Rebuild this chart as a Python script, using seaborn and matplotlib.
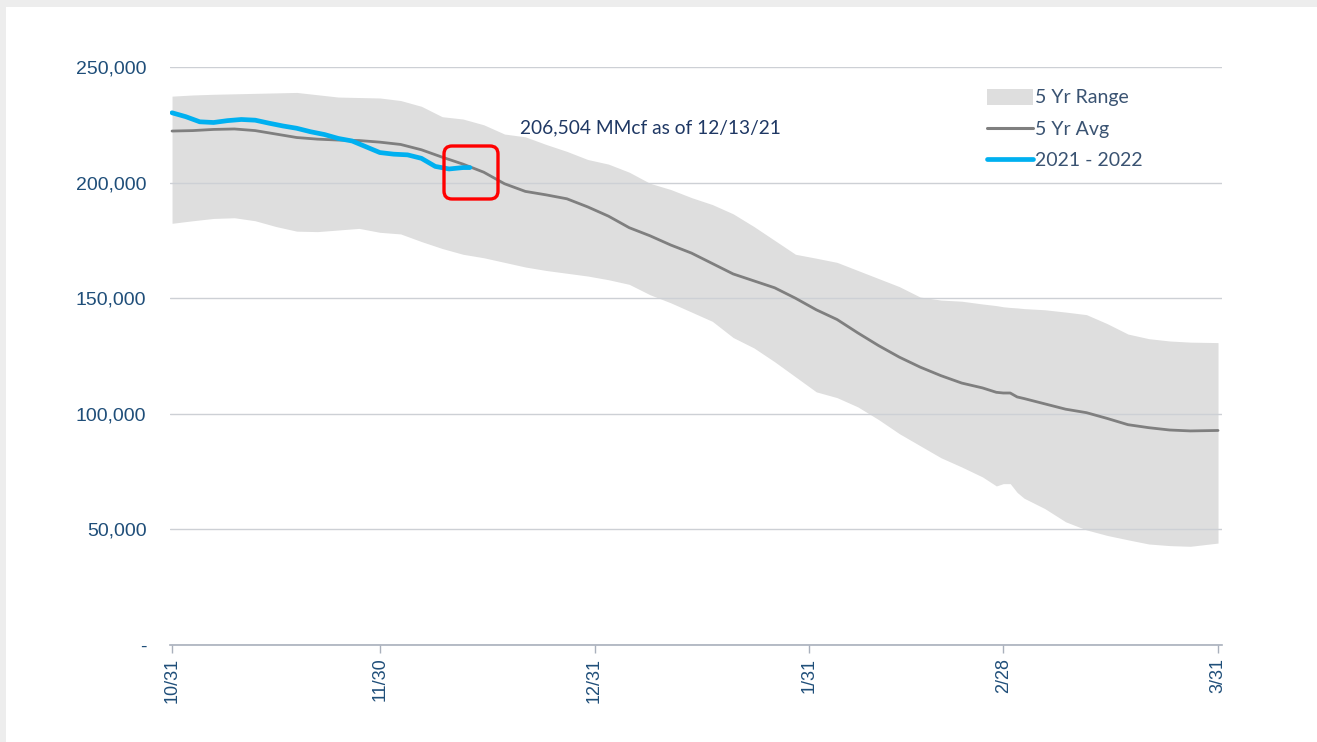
import pandas as pd
import matplotlib.pyplot as plt
import seaborn as sns
from matplotlib.lines import Line2D
from matplotlib.patches import Patch, FancyBboxPatch, Rectangle
from matplotlib.transforms import IdentityTransform
from matplotlib.ticker import FuncFormatter

# days after 10/31 for the 5 yr range and 5 yr average
range_days = [0, 3, 6, 9, 12, 15, 18, 21, 24, 27, 30, 33, 36, 39, 42, 45, 48, 51, 54, 57,
              60, 63, 66, 69, 72, 75, 78, 81, 84, 87, 90, 93, 96, 99, 102, 105, 108, 111,
              114, 117, 119, 120, 121, 122, 123, 126, 129, 132, 135, 138, 141, 144, 147, 151]

range_high = [237400, 237900, 238200, 238400, 238600, 238800, 239000, 238000, 237000, 236800,
              236600, 235500, 233000, 228500, 227500, 225000, 221000, 219800, 216500, 213500,
              210000, 208000, 204500, 199700, 197000, 193500, 190500, 186500, 181000, 175000,
              169000, 167300, 165500, 162000, 158500, 155000, 150500, 149200, 148700, 147500,
              146800, 146300, 146000, 145800, 145500, 145000, 144000, 142900, 139000, 134500,
              132500, 131500, 131000, 130800]

range_low = [182400, 183500, 184500, 184800, 183500, 181000, 179000, 178800, 179500, 180200,
             178500, 177800, 174500, 171500, 169000, 167500, 165500, 163500, 162000, 160800,
             159600, 158000, 156000, 151500, 148000, 144000, 140000, 133000, 128500, 122500,
             116000, 109500, 107000, 103000, 97500, 91400, 86200, 81000, 77000, 72700,
             68800, 69800, 69800, 66000, 63500, 59000, 53300, 49800, 47400, 45500,
             43700, 43000, 42700, 44100]

avg_5yr = [222300, 222500, 223000, 223200, 222500, 221000, 219500, 218800, 218400, 218200,
           217500, 216500, 214200, 211000, 208000, 204500, 199500, 196200, 194700, 193000,
           189500, 185500, 180500, 177000, 173000, 169500, 165000, 160500, 157500, 154500,
           150000, 145000, 140800, 135000, 129500, 124500, 120200, 116500, 113300, 111200,
           109300, 109000, 109000, 107300, 106600, 104300, 102000, 100500, 98000, 95300,
           94000, 93000, 92600, 92800]

# current season, 10/31/21 to 12/13/21
cur_days = [0, 2, 4, 6, 8, 10, 12, 14, 16, 18, 20, 22, 24, 26, 28, 30, 32, 34, 36, 38, 40, 42, 43]
cur_vals = [230200, 228500, 226300, 226000, 226800, 227300, 227000, 225700, 224500, 223500,
            222000, 220800, 219100, 218000, 215500, 213000, 212300, 212000, 210500, 207000,
            205900, 206500, 206504]

tick_days = [0, 30, 61, 92, 120, 151]
tick_labels = ["10/31", "11/30", "12/31", "1/31", "2/28", "3/31"]
y_ticks = [0, 50000, 100000, 150000, 200000, 250000]

hist = pd.DataFrame({"day": range_days, "high": range_high, "low": range_low, "avg": avg_5yr})
cur = pd.DataFrame({"day": cur_days, "value": cur_vals})

sns.set_theme(style="white")
plt.rcParams["font.family"] = ["Liberation Sans", "DejaVu Sans"]

label_blue = "#1F4E79"
fill_gray = "#DEDEDE"
avg_gray = "#7F7F7F"
cur_blue = "#00B0F0"
axis_gray = "#A9B0BC"

fig = plt.figure(figsize=(13.17, 7.42), dpi=100, facecolor="white")
# light frame of the slide
fig.add_artist(Rectangle((0, 0.9906), 1, 0.01, transform=fig.transFigure, color="#EDEDED", lw=0))
fig.add_artist(Rectangle((0, 0), 0.0046, 1, transform=fig.transFigure, color="#EDEDED", lw=0))

ax = fig.add_axes([0.1291, 0.1307, 0.7988, 0.779])
ax.set_axisbelow("line")

ax.fill_between(hist["day"], hist["low"], hist["high"], color=fill_gray, lw=0, zorder=1)
sns.lineplot(data=hist, x="day", y="avg", ax=ax, color=avg_gray, lw=2.0, zorder=3)
sns.lineplot(data=cur, x="day", y="value", ax=ax, color=cur_blue, lw=3.4, zorder=4)

ax.set_xlim(-0.29, 151.58)
ax.set_ylim(0, 250000)
ax.set_xlabel("")
ax.set_ylabel("")

ax.set_yticks(y_ticks)
ax.yaxis.set_major_formatter(FuncFormatter(lambda v, p: "-" if v == 0 else f"{v:,.0f}"))
ax.tick_params(axis="y", length=0, pad=17, labelsize=14, labelcolor=label_blue)
ax.set_xticks(tick_days)
ax.set_xticklabels(tick_labels, rotation=90)
ax.tick_params(axis="x", length=6, width=1, color=axis_gray, pad=3, labelsize=13,
               labelcolor=label_blue, bottom=True)

ax.yaxis.grid(True, color="#CDD0D5", lw=1)
for s in ["top", "right", "left"]:
    ax.spines[s].set_visible(False)
ax.spines["bottom"].set_color(axis_gray)
ax.spines["bottom"].set_linewidth(1.2)

ax.text(0.3327, 0.8945, "206,504 MMcf as of 12/13/21", transform=ax.transAxes,
        family=["Lato", "DejaVu Sans"], fontsize=13.8, color="#1F3864", va="center", ha="left")

# red highlight box around latest point
fig.add_artist(FancyBboxPatch((444, 742 - 199), 54, 53, boxstyle="round,pad=0,rounding_size=8",
                              transform=IdentityTransform(), fill=False, ec="#FF0000", lw=2.4))

handles = [Patch(facecolor=fill_gray, edgecolor="none"),
           Line2D([], [], color=avg_gray, lw=2.2),
           Line2D([], [], color=cur_blue, lw=3.4)]
leg = ax.legend(handles, ["5 Yr Range", "5 Yr Avg", "2021 - 2022"], loc="upper left",
                bbox_to_anchor=(977 / 1317, 1 - 79 / 742), bbox_transform=fig.transFigure,
                frameon=False, prop={"family": "Lato", "size": 14}, handlelength=2.4,
                handleheight=0.9, handletextpad=0.1, labelspacing=0.7, borderpad=0)
for t in leg.get_texts():
    t.set_color("#3A5372")

fig.savefig("out.png", dpi=100, facecolor="white")
